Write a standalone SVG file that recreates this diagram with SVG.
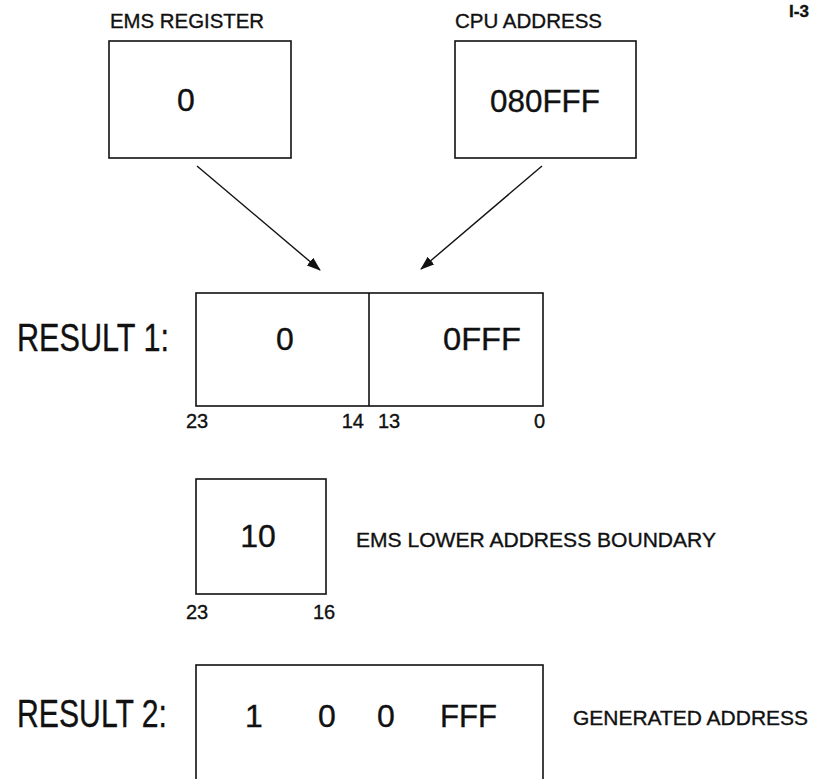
<svg xmlns="http://www.w3.org/2000/svg" width="814" height="779" viewBox="0 0 814 779">
<style>
text{font-family:"Liberation Sans",Arial,sans-serif;fill:#111;stroke:#111;stroke-width:0.35}
.box{fill:none;stroke:#111;stroke-width:1.6}
.lbl{font-size:20px}
.val{font-size:32px}
.big{font-size:39px}
.bit{font-size:20px}
.conn{stroke:#111;stroke-width:1.4;fill:none}
</style>
<defs>
<marker id="ah" markerUnits="userSpaceOnUse" markerWidth="14" markerHeight="10" refX="13" refY="5" orient="auto">
<path d="M0,0 L14,5 L0,10 Z" fill="#111"/>
</marker>
</defs>
<rect width="814" height="779" fill="#fff"/>
<text x="789" y="17" style="font-size:17px;font-weight:bold">I-3</text>

<g id="ems-register">
<text class="lbl" x="110" y="28" textLength="154" lengthAdjust="spacingAndGlyphs">EMS REGISTER</text>
<rect class="box" x="109" y="41" width="182" height="117"/>
<text class="val" x="186" y="111" text-anchor="middle">0</text>
</g>

<g id="cpu-address">
<text class="lbl" x="455" y="28" textLength="147" lengthAdjust="spacingAndGlyphs">CPU ADDRESS</text>
<rect class="box" x="455" y="41" width="181" height="117"/>
<text class="val" x="490" y="112" textLength="110" lengthAdjust="spacingAndGlyphs">080FFF</text>
</g>

<g id="connectors">
<line class="conn" x1="197" y1="166" x2="320" y2="270" marker-end="url(#ah)"/>
<line class="conn" x1="542" y1="166" x2="421" y2="269" marker-end="url(#ah)"/>
</g>

<g id="result1">
<text class="big" x="17" y="351" textLength="152" lengthAdjust="spacingAndGlyphs">RESULT 1:</text>
<rect class="box" x="196" y="293" width="347" height="113"/>
<line class="box" x1="369" y1="293" x2="369" y2="406"/>
<text class="val" x="285" y="350" text-anchor="middle">0</text>
<text class="val" x="443" y="350" textLength="78" lengthAdjust="spacingAndGlyphs">0FFF</text>
<text class="bit" x="186" y="428">23</text>
<text class="bit" x="364" y="428" text-anchor="end">14</text>
<text class="bit" x="378" y="428">13</text>
<text class="bit" x="545" y="428" text-anchor="end">0</text>
</g>

<g id="lower-boundary">
<rect class="box" x="196" y="479" width="130" height="115"/>
<text class="val" x="258" y="547" text-anchor="middle">10</text>
<text class="lbl" x="356" y="547" textLength="360" lengthAdjust="spacingAndGlyphs">EMS LOWER ADDRESS BOUNDARY</text>
<text class="bit" x="186" y="619">23</text>
<text class="bit" x="313" y="619">16</text>
</g>

<g id="result2">
<text class="big" x="17" y="727" textLength="150" lengthAdjust="spacingAndGlyphs">RESULT 2:</text>
<rect class="box" x="196" y="665" width="347" height="140"/>
<text class="val" x="254" y="727" text-anchor="middle">1</text>
<text class="val" x="327" y="727" text-anchor="middle">0</text>
<text class="val" x="386" y="727" text-anchor="middle">0</text>
<text class="val" x="440" y="727" textLength="57" lengthAdjust="spacingAndGlyphs">FFF</text>
<text class="lbl" x="573" y="725" textLength="235" lengthAdjust="spacingAndGlyphs">GENERATED ADDRESS</text>
</g>
</svg>
